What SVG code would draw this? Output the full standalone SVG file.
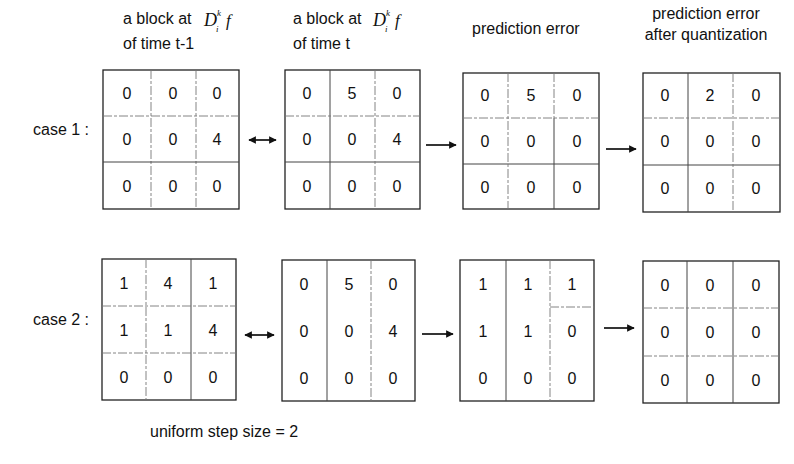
<svg xmlns="http://www.w3.org/2000/svg" width="794" height="464" viewBox="0 0 794 464">
  <defs>
    <marker id="head" viewBox="0 0 10 10" refX="9" refY="5" markerWidth="5" markerHeight="4.5" orient="auto-start-reverse" markerUnits="strokeWidth">
      <path d="M0,0 L10,5 L0,10 z" fill="#111"/>
    </marker>
  </defs>
  <style>
    text { font-family: "Liberation Sans", Arial, sans-serif; fill: #111; }
    .hdr { font-size: 16px; }
    .mid { text-anchor: middle; }
    .num { font-size: 16px; text-anchor: middle; }
    .math { font-family: "Liberation Serif", "Times New Roman", serif; font-style: italic; }
    .edge { fill: none; stroke: #222; stroke-width: 1.3; }
    .line { fill: none; stroke: #444; stroke-width: 1; }
    .faint { fill: none; stroke: #777; stroke-width: 0.9; stroke-dasharray: 9 2 3 2; }
    .conn { stroke: #111; stroke-width: 1.7; fill: none; }
  </style>

  <!-- column headings -->
  <g id="headings">
    <text class="hdr" x="123" y="24">a block at</text>
    <text class="math" x="204" y="26" font-size="18">D</text>
    <text class="math" x="217" y="16" font-size="9">k</text>
    <text class="math" x="216" y="32" font-size="9">i</text>
    <text class="math" x="226" y="26" font-size="17">f</text>
    <text class="hdr" x="123" y="49">of time t-1</text>

    <text class="hdr" x="293" y="24">a block at</text>
    <text class="math" x="373" y="26" font-size="18">D</text>
    <text class="math" x="386" y="16" font-size="9">k</text>
    <text class="math" x="385" y="32" font-size="9">i</text>
    <text class="math" x="395" y="26" font-size="17">f</text>
    <text class="hdr" x="293" y="49">of time t</text>

    <text class="hdr" x="472" y="34">prediction error</text>
    <text class="hdr mid" x="706" y="19">prediction error</text>
    <text class="hdr mid" x="706" y="40">after quantization</text>
  </g>

  <!-- row labels -->
  <g id="labels">
    <text class="hdr" x="33" y="135">case 1 :</text>
    <text class="hdr" x="33" y="325">case 2 :</text>
    <text class="hdr" x="150" y="437">uniform step size = 2</text>
  </g>

  <!-- case 1: previous block -->
  <g id="c1-prev">
    <rect class="edge" x="103" y="70" width="136" height="139"/>
    <path class="faint" d="M151,70 V209 M196,70 V209 M103,116 H239"/>
    <path class="line" d="M103,162 H239"/>
    <text class="num" x="127" y="99">0</text><text class="num" x="173" y="99">0</text><text class="num" x="217" y="99">0</text>
    <text class="num" x="127" y="145">0</text><text class="num" x="173" y="145">0</text><text class="num" x="217" y="145">4</text>
    <text class="num" x="127" y="192">0</text><text class="num" x="173" y="192">0</text><text class="num" x="217" y="192">0</text>
  </g>

  <!-- case 1: current block -->
  <g id="c1-cur">
    <rect class="edge" x="285" y="70" width="135" height="139"/>
    <path class="line" d="M330,70 V209 M285,162 H420"/>
    <path class="faint" d="M375,70 V209 M285,116 H420"/>
    <text class="num" x="307" y="99">0</text><text class="num" x="352" y="99">5</text><text class="num" x="397" y="99">0</text>
    <text class="num" x="307" y="145">0</text><text class="num" x="352" y="145">0</text><text class="num" x="397" y="145">4</text>
    <text class="num" x="307" y="192">0</text><text class="num" x="352" y="192">0</text><text class="num" x="397" y="192">0</text>
  </g>

  <!-- case 1: prediction error -->
  <g id="c1-err">
    <rect class="edge" x="463" y="73" width="136" height="136"/>
    <path class="line" d="M463,164 H599 M554,118 V209"/>
    <path class="faint" d="M508,73 V209 M554,73 V118 M463,118 H599"/>
    <text class="num" x="485" y="101">0</text><text class="num" x="531" y="101">5</text><text class="num" x="577" y="101">0</text>
    <text class="num" x="485" y="147">0</text><text class="num" x="531" y="147">0</text><text class="num" x="577" y="147">0</text>
    <text class="num" x="485" y="193">0</text><text class="num" x="531" y="193">0</text><text class="num" x="577" y="193">0</text>
  </g>

  <!-- case 1: quantized error -->
  <g id="c1-quant">
    <rect class="edge" x="643" y="73" width="137" height="139"/>
    <path class="line" d="M688,73 V212 M643,165 H780"/>
    <path class="faint" d="M733,73 V212 M643,118 H780"/>
    <text class="num" x="665" y="101">0</text><text class="num" x="710" y="101">2</text><text class="num" x="756" y="101">0</text>
    <text class="num" x="665" y="147">0</text><text class="num" x="710" y="147">0</text><text class="num" x="756" y="147">0</text>
    <text class="num" x="665" y="194">0</text><text class="num" x="710" y="194">0</text><text class="num" x="756" y="194">0</text>
  </g>

  <!-- case 2: previous block -->
  <g id="c2-prev">
    <rect class="edge" x="102" y="259" width="134" height="141"/>
    <path class="line" d="M191,259 V400"/>
    <path class="faint" d="M146,259 V400 M102,306 H236 M102,353 H236"/>
    <text class="num" x="124" y="289">1</text><text class="num" x="168" y="289">4</text><text class="num" x="213" y="289">1</text>
    <text class="num" x="124" y="336">1</text><text class="num" x="168" y="336">1</text><text class="num" x="213" y="336">4</text>
    <text class="num" x="124" y="383">0</text><text class="num" x="168" y="383">0</text><text class="num" x="213" y="383">0</text>
  </g>

  <!-- case 2: current block -->
  <g id="c2-cur">
    <rect class="edge" x="282" y="260" width="133" height="141"/>
    <path class="line" d="M327,260 V401"/>
    <path class="faint" d="M371,260 V401"/>
    <text class="num" x="304" y="290">0</text><text class="num" x="349" y="290">5</text><text class="num" x="393" y="290">0</text>
    <text class="num" x="304" y="337">0</text><text class="num" x="349" y="337">0</text><text class="num" x="393" y="337">4</text>
    <text class="num" x="304" y="384">0</text><text class="num" x="349" y="384">0</text><text class="num" x="393" y="384">0</text>
  </g>

  <!-- case 2: prediction error -->
  <g id="c2-err">
    <rect class="edge" x="460" y="260" width="134" height="141"/>
    <path class="line" d="M506,260 V401"/>
    <path class="faint" d="M550,260 V401 M550,307 H594"/>
    <text class="num" x="483" y="290">1</text><text class="num" x="528" y="290">1</text><text class="num" x="572" y="290">1</text>
    <text class="num" x="483" y="337">1</text><text class="num" x="528" y="337">1</text><text class="num" x="572" y="337">0</text>
    <text class="num" x="483" y="384">0</text><text class="num" x="528" y="384">0</text><text class="num" x="572" y="384">0</text>
  </g>

  <!-- case 2: quantized error -->
  <g id="c2-quant">
    <rect class="edge" x="643" y="261" width="136" height="142"/>
    <path class="line" d="M687,261 V403 M733,261 V403"/>
    <path class="faint" d="M643,308 H779 M643,356 H779"/>
    <text class="num" x="665" y="291">0</text><text class="num" x="710" y="291">0</text><text class="num" x="756" y="291">0</text>
    <text class="num" x="665" y="338">0</text><text class="num" x="710" y="338">0</text><text class="num" x="756" y="338">0</text>
    <text class="num" x="665" y="386">0</text><text class="num" x="710" y="386">0</text><text class="num" x="756" y="386">0</text>
  </g>

  <!-- connectors -->
  <g id="connectors">
    <line class="conn" x1="249" y1="140" x2="276" y2="140" marker-start="url(#head)" marker-end="url(#head)"/>
    <line class="conn" x1="426" y1="145" x2="456" y2="145" marker-end="url(#head)"/>
    <line class="conn" x1="606" y1="149" x2="636" y2="149" marker-end="url(#head)"/>
    <line class="conn" x1="245" y1="335" x2="274" y2="335" marker-start="url(#head)" marker-end="url(#head)"/>
    <line class="conn" x1="422" y1="334" x2="453" y2="334" marker-end="url(#head)"/>
    <line class="conn" x1="604" y1="328" x2="634" y2="328" marker-end="url(#head)"/>
  </g>
</svg>
